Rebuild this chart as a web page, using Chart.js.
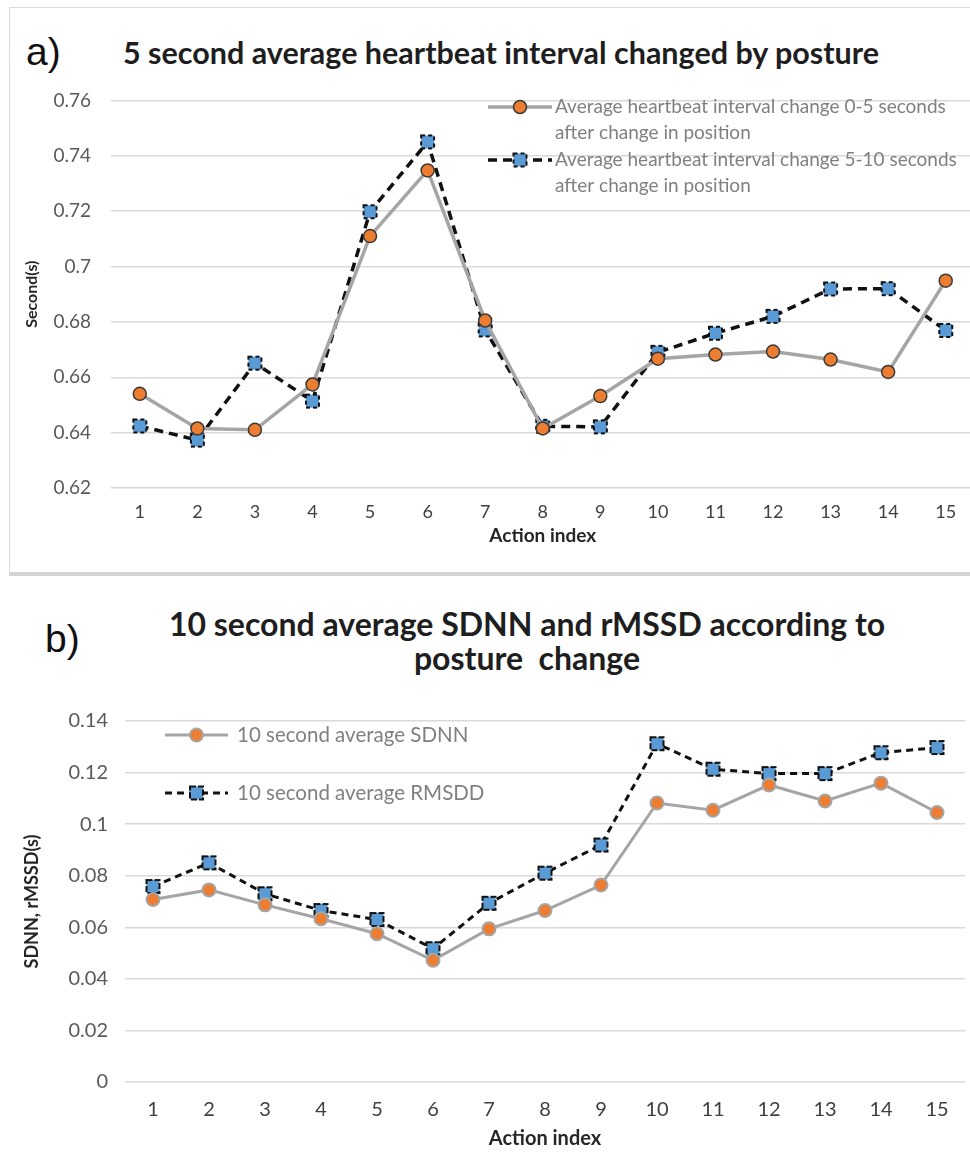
<!DOCTYPE html>
<html>
<head>
<meta charset="utf-8">
<script src="https://cdn.jsdelivr.net/npm/chart.js@4.4.1/dist/chart.umd.min.js"></script>
<style>
  html, body { margin: 0; padding: 0; background: #fff; overflow: hidden; }
  body { width: 970px; height: 1154px; position: relative; font-family: Lato, sans-serif; }
  .box { position: absolute; left: 9px; top: 7px; width: 990px; height: 564px;
         border: 1.5px solid #dcdcdc; border-bottom: 4px solid #d4d4d4; }
  .tag { position: absolute; font-family: "Liberation Sans", Arial, sans-serif; font-size: 39px;
         line-height: 1; color: #111; background: #fff; padding: 0 2px; }
  .title { position: absolute; font-family: Lato, sans-serif; font-weight: bold; font-size: 30.5px;
           line-height: 1; color: #1e1e1e; white-space: pre; }
  .center { width: 800px; text-align: center; }
  canvas { position: absolute; left: 0; }
</style>
</head>
<body>
<div class="box"></div>
<div class="tag" style="left:24px; top:32px;">a)</div>
<div class="title" style="left:123px; top:37px;">5 second average heartbeat interval changed by posture</div>
<canvas id="chartA" width="985" height="491" style="top:69px;"></canvas>

<div class="tag" style="left:43px; top:619px;">b)</div>
<div class="title center" style="left:127px; top:608px; font-size:32px;">10 second average SDNN and rMSSD according to</div>
<div class="title center" style="left:127px; top:642px; font-size:32px;">posture  change</div>
<canvas id="chartB" width="975" height="462" style="top:692px;"></canvas>

<script>
// 동작 번호 (x축)
const actions = ['1', '2', '3', '4', '5', '6', '7', '8', '9', '10', '11', '12', '13', '14', '15'];

// a) 평균 심박 간격 (초)
const hbi0to5 = [0.654, 0.6415, 0.641, 0.6574, 0.711, 0.7347, 0.6805, 0.6415, 0.6532, 0.6667, 0.6682, 0.6693, 0.6664, 0.6619, 0.6949];
const hbi5to10 = [0.6424, 0.6373, 0.6651, 0.6514, 0.7198, 0.745, 0.6771, 0.6423, 0.6421, 0.669, 0.6759, 0.682, 0.6919, 0.692, 0.6769];
const ticksA = [0.62, 0.64, 0.66, 0.68, 0.7, 0.72, 0.74, 0.76];
const namesA = [
  ['Average heartbeat interval change 0-5 seconds', 'after change in position'],
  ['Average heartbeat interval change 5-10 seconds', 'after change in position']
];

// b) SDNN / rMSSD (초)
const sdnn = [0.0708, 0.0745, 0.0687, 0.0633, 0.0575, 0.0472, 0.0594, 0.0665, 0.0764, 0.1082, 0.1054, 0.1152, 0.109, 0.1159, 0.1045];
const rmssd = [0.0758, 0.085, 0.073, 0.0665, 0.063, 0.0517, 0.0693, 0.081, 0.0919, 0.1312, 0.1213, 0.1196, 0.1196, 0.1277, 0.1297];
const ticksB = [0, 0.02, 0.04, 0.06, 0.08, 0.1, 0.12, 0.14];
const namesB = [['10 second average SDNN'], ['10 second average RMSDD']];

const ORANGE = '#ED7D31';
const BLUE = '#5B9BD5';
const GRAY = '#a5a5a5';

// 파란 네모 마커 (점선 테두리)
function squareMarker(side, dash) {
  const c = document.createElement('canvas');
  c.width = side + 4;
  c.height = side + 4;
  const g = c.getContext('2d');
  g.fillStyle = BLUE;
  g.fillRect(2, 2, side, side);
  g.strokeStyle = '#111';
  g.lineWidth = 2;
  g.setLineDash(dash);
  g.strokeRect(2, 2, side, side);
  return c;
}

// 차트 안쪽 범례
const insideLegend = {
  id: 'insideLegend',
  afterDraw(chart, args, opts) {
    const ctx = chart.ctx;
    ctx.save();
    chart.data.datasets.forEach((ds, i) => {
      const y = opts.y + i * opts.rowGap;
      const x0 = opts.x, x1 = opts.x + opts.sample;
      ctx.beginPath();
      ctx.setLineDash(ds.borderDash || []);
      ctx.strokeStyle = ds.borderColor;
      ctx.lineWidth = ds.borderWidth;
      ctx.moveTo(x0, y);
      ctx.lineTo(x1, y);
      ctx.stroke();
      ctx.setLineDash([]);
      const mx = (x0 + x1) / 2;
      if (ds.pointStyle instanceof HTMLCanvasElement) {
        ctx.drawImage(ds.pointStyle, mx - ds.pointStyle.width / 2, y - ds.pointStyle.height / 2);
      } else {
        ctx.beginPath();
        ctx.arc(mx, y, ds.pointRadius, 0, Math.PI * 2);
        ctx.fillStyle = ds.pointBackgroundColor;
        ctx.fill();
        ctx.strokeStyle = ds.pointBorderColor;
        ctx.lineWidth = ds.pointBorderWidth;
        ctx.stroke();
      }
      ctx.font = opts.font;
      ctx.fillStyle = opts.color;
      ctx.textBaseline = 'middle';
      ctx.textAlign = 'left';
      opts.names[i].forEach((line, j) => {
        ctx.fillText(line, x0 + opts.textOffset, y + j * opts.lineGap);
      });
    });
    ctx.restore();
  }
};

const fmt = v => String(Number(v.toFixed(2)));

new Chart(document.getElementById('chartA'), {
  type: 'line',
  data: {
    labels: actions,
    datasets: [{
      label: namesA[0].join(' '),
      data: hbi0to5,
      borderColor: GRAY,
      borderWidth: 3.5,
      pointStyle: 'circle',
      pointRadius: 6.5,
      pointBackgroundColor: ORANGE,
      pointBorderColor: '#3a3a3a',
      pointBorderWidth: 1.5
    }, {
      label: namesA[1].join(' '),
      data: hbi5to10,
      borderColor: '#111',
      borderWidth: 3.5,
      borderDash: [9, 6],
      pointStyle: squareMarker(13, [4, 3]),
      pointRadius: 7
    }]
  },
  options: {
    responsive: false,
    animation: false,
    devicePixelRatio: 1,
    layout: { padding: { top: 7, right: 8, left: 0, bottom: 0 } },
    plugins: {
      legend: { display: false },
      tooltip: { enabled: false },
      insideLegend: {
        names: namesA, x: 488, y: 38, sample: 64, textOffset: 67,
        rowGap: 53, lineGap: 26, font: '19px Lato', color: '#808080'
      }
    },
    scales: {
      x: {
        offset: true,
        grid: { display: false, drawTicks: false },
        border: { display: false },
        ticks: { padding: 13, color: '#404040', font: { family: 'Lato', size: 18 } },
        title: { display: true, text: 'Action index', color: '#262626',
                 font: { family: 'Lato', size: 19, weight: 'bold' }, padding: { top: 0, bottom: 13 } },
        afterFit: s => { s.height = 72; }
      },
      y: {
        min: 0.62,
        max: 0.76,
        afterBuildTicks: s => { s.ticks = ticksA.map(v => ({ value: v })); },
        grid: { color: '#d9d9d9', lineWidth: 1.5, drawTicks: false },
        border: { display: false },
        ticks: { padding: 20, color: '#595959', font: { family: 'Lato', size: 19 }, callback: fmt },
        title: { display: true, text: 'Second(s)', color: '#262626',
                 font: { family: 'Lato', size: 16, weight: 'bold' }, padding: { top: 22, bottom: 0 } },
        afterFit: s => { s.width = 111; }
      }
    }
  },
  plugins: [insideLegend]
});

new Chart(document.getElementById('chartB'), {
  type: 'line',
  data: {
    labels: actions,
    datasets: [{
      label: namesB[0][0],
      data: sdnn,
      borderColor: GRAY,
      borderWidth: 3,
      pointStyle: 'circle',
      pointRadius: 6.5,
      pointBackgroundColor: ORANGE,
      pointBorderColor: GRAY,
      pointBorderWidth: 2
    }, {
      label: namesB[1][0],
      data: rmssd,
      borderColor: '#111',
      borderWidth: 3,
      borderDash: [7, 5],
      pointStyle: squareMarker(13, [6, 2]),
      pointRadius: 7
    }]
  },
  options: {
    responsive: false,
    animation: false,
    devicePixelRatio: 1,
    layout: { padding: { top: 11, right: 10, left: 0, bottom: 0 } },
    plugins: {
      legend: { display: false },
      tooltip: { enabled: false },
      insideLegend: {
        names: namesB, x: 165, y: 43, sample: 63, textOffset: 72,
        rowGap: 58, lineGap: 0, font: '20.5px Lato', color: '#808080'
      }
    },
    scales: {
      x: {
        offset: true,
        grid: { display: false, drawTicks: false },
        border: { display: false },
        ticks: { padding: 16, color: '#404040', font: { family: 'Lato', size: 20 } },
        title: { display: true, text: 'Action index', color: '#262626',
                 font: { family: 'Lato', size: 20, weight: 'bold' }, padding: { top: 0, bottom: 3 } },
        afterFit: s => { s.height = 72; }
      },
      y: {
        min: 0,
        max: 0.14,
        afterBuildTicks: s => { s.ticks = ticksB.map(v => ({ value: v })); },
        grid: { color: '#d9d9d9', lineWidth: 1.5, drawTicks: false },
        border: { display: false },
        ticks: { padding: 17, color: '#595959', font: { family: 'Lato', size: 20 }, callback: fmt },
        title: { display: true, text: 'SDNN, rMSSD(s)', color: '#262626',
                 font: { family: 'Lato', size: 18, weight: 'bold' }, padding: { top: 21, bottom: 0 } },
        afterFit: s => { s.width = 125; }
      }
    }
  },
  plugins: [insideLegend]
});
</script>
</body>
</html>
